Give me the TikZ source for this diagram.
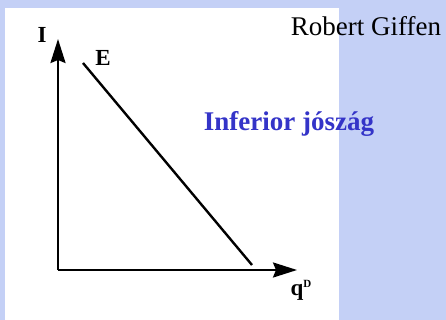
\documentclass[tikz,border=0pt]{standalone}
\usepackage{fontspec}
\setmainfont{Liberation Serif}
\usetikzlibrary{arrows.meta, positioning}
\definecolor{bgblue}{HTML}{C4D0F6}
\definecolor{titleblue}{HTML}{3434C8}

\begin{document}
\begin{tikzpicture}[
    x=1pt, y=-1pt,
    axis/.style={draw=black, line width=2.4pt,
                 -{Stealth[length=24pt, width=15pt, inset=3pt]}},
    curve/.style={draw=black, line width=2.4pt},
    axlab/.style={font=\fontsize{23}{23}\selectfont\bfseries, inner sep=0pt},
    head/.style={font=\fontsize{27}{27}\selectfont, inner sep=0pt},
]

% ---------------------------------------------------------------- the page
\fill[bgblue] (0,0) rectangle (446,320);
\fill[white] (5,8) rectangle (339,320);
\useasboundingbox (0,0) rectangle (446,320);

% ---------------------------------------------------------------- axes
\coordinate (origin) at (58,270);
\coordinate (itop) at (58,39);
\coordinate (qend) at (297,270);
\draw[axis] (origin) -- (itop);
\draw[axis] (origin) -- (qend);

% ---------------------------------------------------------------- the Engel line
\coordinate (etop) at (83,63);
\coordinate (ebot) at (252,265);
\draw[curve] (etop) -- (ebot);

% ---------------------------------------------------------------- labels
\node[axlab] (ilab) at (42,35) {I};
\node[axlab] (elab) at (103,58) {E};
\node[axlab] (qlab) at (301,290)
    {q\raisebox{8pt}{\fontsize{11}{11}\selectfont D}};

\node[head] (giffen) at (366,26) {Robert Giffen};
\node[head, font=\fontsize{27}{27}\selectfont\bfseries, text=titleblue]
    (inferior) at (289,124) {Inferior jószág};

\end{tikzpicture}
\end{document}
